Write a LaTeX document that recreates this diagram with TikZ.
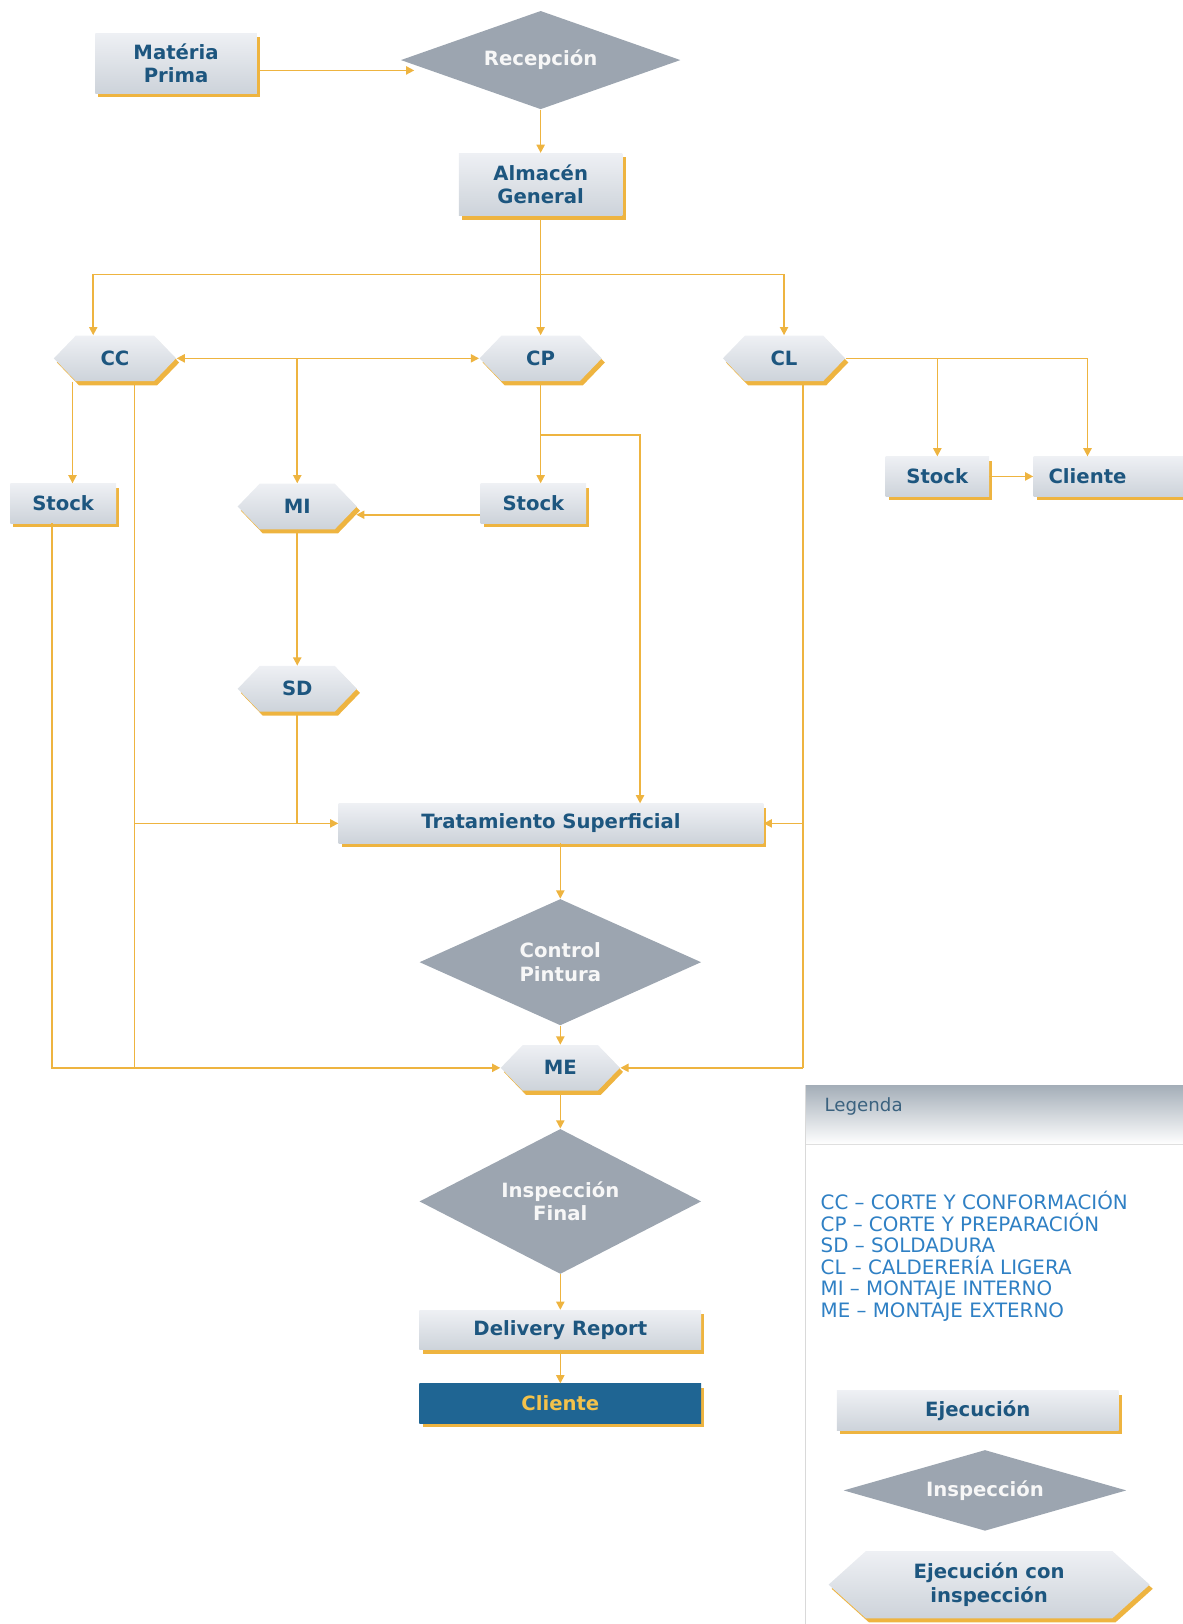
\documentclass[tikz,border=0pt]{standalone}
\usepackage{fontspec}
\setmainfont{DejaVu Sans}
\usetikzlibrary{shapes.geometric,shapes.symbols,shadows,arrows.meta}
\definecolor{lineor}{HTML}{EEB440}
\definecolor{txtblue}{HTML}{1D567F}
\definecolor{dgray}{HTML}{9CA5B0}
\definecolor{boxtop}{HTML}{EEF0F4}
\definecolor{boxbot}{HTML}{CDD3DA}
\definecolor{dkblue}{HTML}{1F6593}
\definecolor{cliyel}{HTML}{F3C24B}
\definecolor{legblue}{HTML}{2F80C4}
\definecolor{leghead}{HTML}{A4AEB8}

\begin{document}
\begin{tikzpicture}[x=0.2mm,y=-0.2mm,
  font=\bfseries\fontsize{10.8}{13}\selectfont,
  box/.style={rectangle,top color=boxtop,bottom color=boxbot,text=txtblue,align=center,
    inner sep=0pt,minimum height=7.6mm,
    drop shadow={shadow xshift=0.6mm,shadow yshift=-0.8mm,fill=lineor,opacity=1}},
  hexa/.style={signal,signal to=east and west,signal pointer angle=92,top color=boxtop,
    bottom color=boxbot,text=txtblue,align=center,inner sep=0pt,
    minimum width=23.6mm,minimum height=8.8mm,
    drop shadow={shadow xshift=0.6mm,shadow yshift=-0.8mm,fill=lineor,opacity=1}},
  insp/.style={diamond,fill=dgray,text=white!94!gray,align=center,inner sep=0pt},
  conn/.style={draw=lineor,line width=0.9pt},
  arr/.style={conn,-{Triangle[length=4.5pt,width=4.5pt]}}]
\useasboundingbox (0,0) rectangle (1142,1568);

\node[box,minimum width=31.2mm,minimum height=11.6mm] (mp) at (170,61) {Matéria\\Prima};
\node[insp,aspect=2.84,minimum width=54mm,minimum height=19mm] (rec) at (522,58) {Recepción};
\node[box,minimum width=31.6mm,minimum height=12mm] (alm) at (522,178) {Almacén\\General};

\node[hexa] (cc) at (111,346) {CC};
\node[hexa] (cp) at (522,346) {CP};
\node[hexa] (cl) at (757,346) {CL};

\node[box,minimum width=20.4mm] (stk1) at (61,486) {Stock};
\node[hexa,minimum width=23mm] (mi) at (287,489) {MI};
\node[box,minimum width=20.4mm] (stk2) at (515,486) {Stock};
\node[box,minimum width=20mm] (stk3) at (905,460) {Stock};
\node[box,minimum width=28.8mm] (cli1) at (1070,460) {\makebox[20.8mm]{Cliente}\hspace*{8mm}};

\node[hexa,minimum width=23mm] (sd) at (287,665) {SD};
\node[box,minimum width=82mm] (trat) at (532,795) {Tratamiento Superficial};
\node[insp,aspect=2.23,minimum width=54.4mm,minimum height=24.4mm] (ctrl) at (541,929) {Control\\Pintura};
\node[hexa,minimum width=23mm] (me) at (541,1031) {ME};
\node[insp,aspect=1.94,minimum width=54.4mm,minimum height=28mm] (ins) at (541,1160) {Inspección\\Final};
\node[box,minimum width=54.4mm] (dr) at (541,1284) {Delivery Report};
\node[box,minimum width=54.4mm,top color=dkblue,bottom color=dkblue,text=cliyel] (cli2) at (541,1355) {Cliente};

\coordinate (jrec) at (400,68);
\coordinate (jl) at (90,265);
\coordinate (jr) at (757,265);
\coordinate (jm) at (287,346);
\coordinate (jmi) at (344,497);
\coordinate (lccs) at (70,0);
\coordinate (lcc) at (130,0);
\coordinate (lstk) at (50,0);
\coordinate (jcp) at (618,420);
\coordinate (lcl) at (775,0);
\coordinate (lcli) at (1050,0);

\draw[arr] (mp.east |- jrec) -- (jrec);
\draw[arr] (rec.south) -- (alm.north);
\draw[arr] (alm.south) -- (cp.north);
\draw[conn] (jl) -- (jr);
\draw[arr] (jl) -- (jl |- cc.north);
\draw[arr] (jr) -- (cl.north);

\draw[arr] (jm) -- (cc.east);
\draw[arr] (jm) -- (cp.west);
\draw[arr] (jm) -- (mi.north);
\draw[arr] (cc.south -| lccs) -- (stk1.north -| lccs);
\draw[conn] (cc.south -| lcc) -- (lcc |- me.west);
\draw[arr] (stk1.south -| lstk) |- (me.west);
\draw[arr] (lcc |- trat.west) -- (trat.west);

\draw[arr] (cp.south) -- (cp.south |- stk2.north);
\draw[arr] (cp.south |- jcp) -- (jcp) -- (jcp |- trat.north);
\draw[arr] (stk2.west |- jmi) -- (jmi);
\draw[arr] (mi.south) -- (sd.north);
\draw[conn] (sd.south) -- (sd.south |- trat.west);

\draw[conn] (cl.south -| lcl) -- (lcl |- me.east);
\draw[arr] (lcl |- me.east) -- (me.east);
\draw[arr] (lcl |- trat.east) -- (trat.east);
\draw[conn] (cl.east) -- (lcli |- cl.east);
\draw[arr] (stk3.north |- cl.east) -- (stk3.north);
\draw[arr] (lcli |- cl.east) -- (lcli |- cli1.north);
\draw[arr] (stk3.east) -- (cli1.west);

\draw[arr] (trat.south -| ctrl.north) -- (ctrl.north);
\draw[arr] (ctrl.south) -- (me.north);
\draw[arr] (me.south) -- (ins.north);
\draw[arr] (ins.south) -- (dr.north);
\draw[arr] (dr.south) -- (cli2.north);

\shade[top color=leghead,bottom color=white] (778,1048) rectangle (1142,1105);
\draw[gray!30] (778,1048) -- (778,1568);
\draw[gray!25] (778,1105) -- (1142,1105);
\node[anchor=west,font=\mdseries\fontsize{10}{12}\selectfont,text=txtblue!70!gray] (legt) at (790,1068) {Legenda};
\node[anchor=north west,align=left,inner sep=0pt,text=legblue,
  font=\mdseries\fontsize{10.9}{11.8}\selectfont] (legl) at (792,1150)
  {CC – CORTE Y CONFORMACIÓN\\CP – CORTE Y PREPARACIÓN\\SD – SOLDADURA\\CL – CALDERERÍA LIGERA\\MI – MONTAJE INTERNO\\ME – MONTAJE EXTERNO};
\node[box,minimum width=54.4mm] (lega) at (944,1362) {Ejecución};
\node[insp,aspect=3.5,minimum width=54.6mm,minimum height=15.6mm] (legb) at (951,1439) {Inspección};
\node[hexa,minimum width=62mm,minimum height=13mm,signal pointer angle=84] (legc) at (955,1530) {Ejecución con\\inspección};
\end{tikzpicture}
\end{document}
